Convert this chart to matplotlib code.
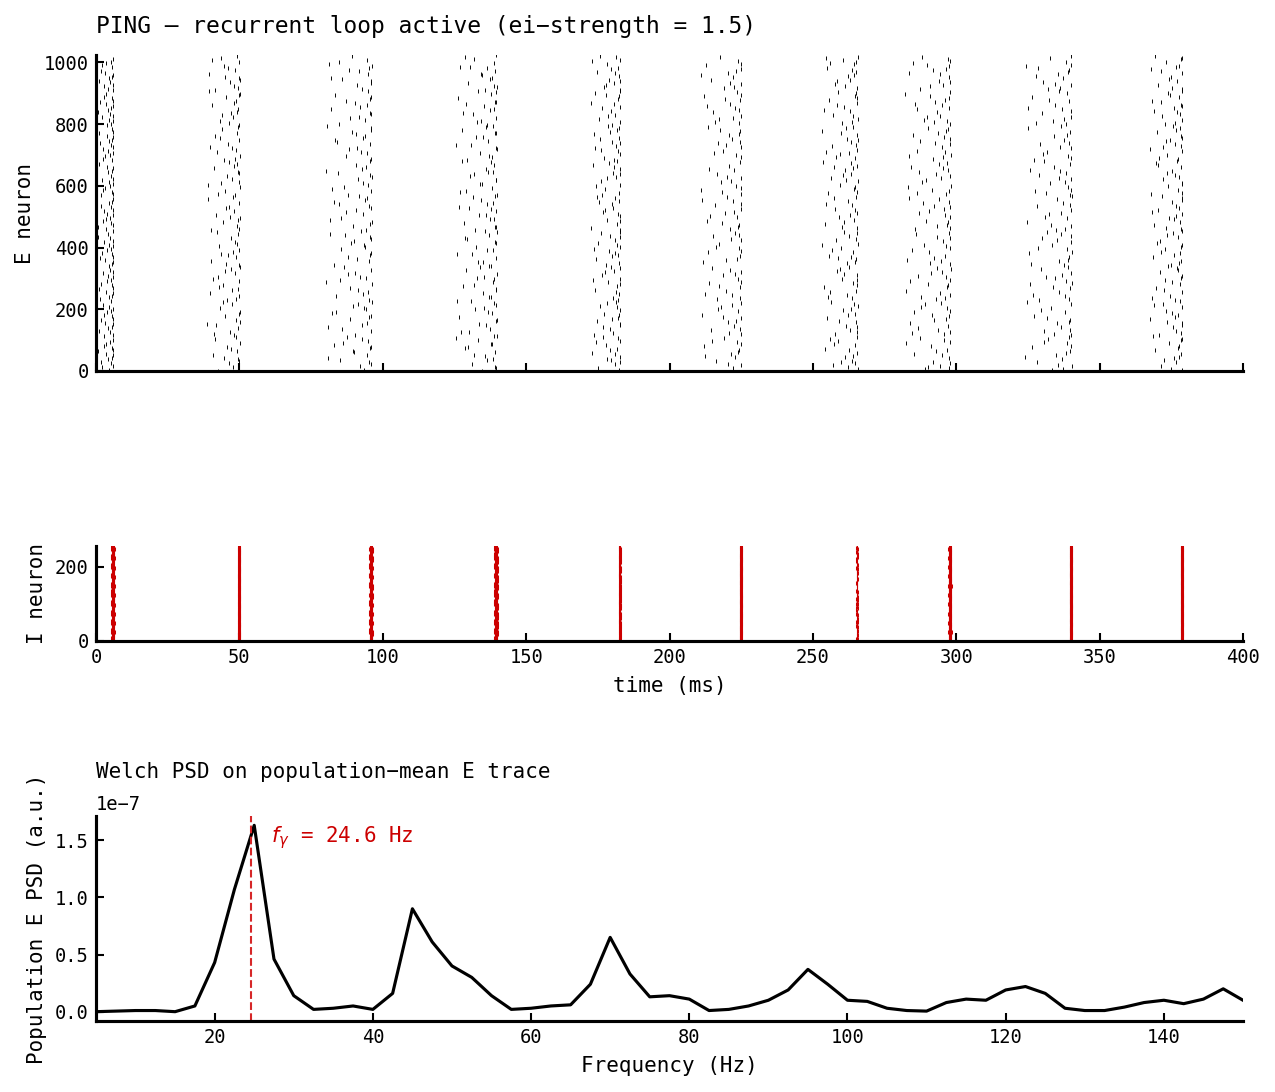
import numpy as np
import matplotlib
matplotlib.use("Agg")
import matplotlib.pyplot as plt

plt.rcParams['font.family'] = ['DejaVu Sans Mono', 'DejaVu Sans']
plt.rcParams['axes.unicode_minus'] = True

# ---------------- data ----------------
N_E = 1024
N_I = 256
t_max = 400.0

# I-population volley times (ms) and their widths (ms)
i_burst_times = [5.9, 49.9, 95.9, 139.5, 182.7, 224.9, 265.4, 297.8, 340.0, 378.7]
i_burst_widths = [1.2, 0.8, 1.2, 1.3, 0.6, 0.9, 0.5, 1.1, 0.9, 0.9]
i_burst_counts = [256, 256, 256, 256, 256, 256, 110, 256, 256, 256]

# E-population burst: earliest spike time (ms), number of spikes per burst
e_burst_starts = [0.5, 38.7, 80.0, 125.5, 172.6, 210.6, 253.0, 282.0, 324.0, 367.5]
e_burst_counts = [150, 130, 140, 145, 140, 130, 140, 150, 140, 140]

# Welch PSD of population-mean E trace
freqs = [5, 7.5, 10, 12.5, 15, 17.5, 20, 22.5, 25, 27.5, 30, 32.5, 35, 37.5, 40,
         42.5, 45, 47.5, 50, 52.5, 55, 57.5, 60, 62.5, 65, 67.5, 70, 72.5, 75, 77.5,
         80, 82.5, 85, 87.5, 90, 92.5, 95, 97.5, 100, 102.5, 105, 107.5, 110, 112.5,
         115, 117.5, 120, 122.5, 125, 127.5, 130, 132.5, 135, 137.5, 140, 142.5, 145,
         147.5, 150]
psd_e7 = [0.00, 0.005, 0.01, 0.01, 0.00, 0.05, 0.43, 1.07, 1.63, 0.46, 0.14, 0.02,
          0.03, 0.05, 0.02, 0.16, 0.90, 0.61, 0.40, 0.30, 0.14, 0.02, 0.03, 0.05,
          0.06, 0.24, 0.65, 0.33, 0.13, 0.14, 0.11, 0.01, 0.02, 0.05, 0.10, 0.19,
          0.37, 0.24, 0.10, 0.09, 0.03, 0.01, 0.005, 0.08, 0.11, 0.10, 0.19, 0.22,
          0.16, 0.03, 0.01, 0.01, 0.04, 0.08, 0.10, 0.07, 0.11, 0.20, 0.10]
f_gamma = 24.6

title_top = "PING — recurrent loop active (ei−strength = 1.5)"
title_psd = "Welch PSD on population−mean E trace"

# ---------------- spike layout (deterministic low-discrepancy fill) ----------------
def halton(idx, base):
    out = np.zeros(len(idx))
    for m, i in enumerate(idx):
        f, r, i = 1.0, 0.0, int(i)
        while i > 0:
            f /= base
            r += f * (i % base)
            i //= base
        out[m] = r
    return out

e_t, e_n = [], []
for k, (s, T, c) in enumerate(zip(e_burst_starts, i_burst_times, e_burst_counts)):
    j = np.arange(c) + 1 + 211 * k
    u = halton(j, 2)
    v = halton(j, 3)
    e_t.append(T + 0.2 - (T + 0.2 - s) * u ** 2.0)
    e_n.append(v * N_E)
e_t = np.concatenate(e_t)
e_n = np.concatenate(e_n)

i_t, i_n = [], []
for k, (T, w, c) in enumerate(zip(i_burst_times, i_burst_widths, i_burst_counts)):
    j = np.arange(c) + 1 + 300 * k
    u = halton(j, 5)
    if c < N_I:
        n = halton(j, 3) * N_I
    else:
        n = np.arange(c).astype(float)
    i_t.append(T + (u - 0.5) * w)
    i_n.append(n)
i_t = np.concatenate(i_t)
i_n = np.concatenate(i_n)

# ---------------- figure ----------------
W, H = 1275, 1092
dpi = 150
fig = plt.figure(figsize=(W / dpi, H / dpi), dpi=dpi)

def px_axes(x0, y0, x1, y1):
    return fig.add_axes([x0 / W, 1 - y1 / H, (x1 - x0) / W, (y1 - y0) / H])

axE = px_axes(96, 55, 1243, 371)
axI = px_axes(96, 546, 1243, 641)
axP = px_axes(96, 816, 1243, 1021)

red = '#cc0000'

def style(ax):
    for s in ['top', 'right']:
        ax.spines[s].set_visible(False)
    for s in ['left', 'bottom']:
        ax.spines[s].set_linewidth(1.5)
    ax.tick_params(direction='in', length=4, width=1.0, labelsize=9, pad=3.5)

axE.plot(e_t, e_n, linestyle='none', marker='|', color='black', ms=1.6, mew=0.45)
axE.set_xlim(0, t_max)
axE.set_ylim(0, N_E)
axE.set_xticks(np.arange(0, 401, 50))
axE.set_xticklabels([])
axE.set_yticks([0, 200, 400, 600, 800, 1000])
axE.set_ylabel("E neuron", fontsize=10)
axE.set_title(title_top, loc='left', fontsize=11, pad=10.5)
style(axE)

axI.plot(i_t, i_n, linestyle='none', marker='|', color=red, ms=1.8, mew=0.5)
axI.set_xlim(0, t_max)
axI.set_ylim(0, N_I)
axI.set_xticks(np.arange(0, 401, 50))
axI.set_yticks([0, 200])
axI.set_ylabel("I neuron", fontsize=10)
axI.set_xlabel("time (ms)", fontsize=10)
style(axI)

psd = np.array(psd_e7) * 1e-7
axP.plot(freqs, psd, color='black', lw=1.5)
axP.axvline(f_gamma, color='#d62728', ls='--', lw=1.0)
axP.text(f_gamma + 2.5, 1.52e-7, r"$f_\gamma$ = %.1f Hz" % f_gamma, color=red,
         fontsize=10, va='center', ha='left')
axP.set_xlim(5, 150)
axP.set_xticks([20, 40, 60, 80, 100, 120, 140])
axP.set_yticks([0, 0.5e-7, 1.0e-7, 1.5e-7])
axP.set_xlabel("Frequency (Hz)", fontsize=10)
axP.set_ylabel("Population E PSD (a.u.)", fontsize=10)
axP.set_title(title_psd, loc='left', fontsize=10, pad=8)
style(axP)
axP.yaxis.get_offset_text().set_fontsize(9)

fig.savefig("out.png", dpi=dpi)
